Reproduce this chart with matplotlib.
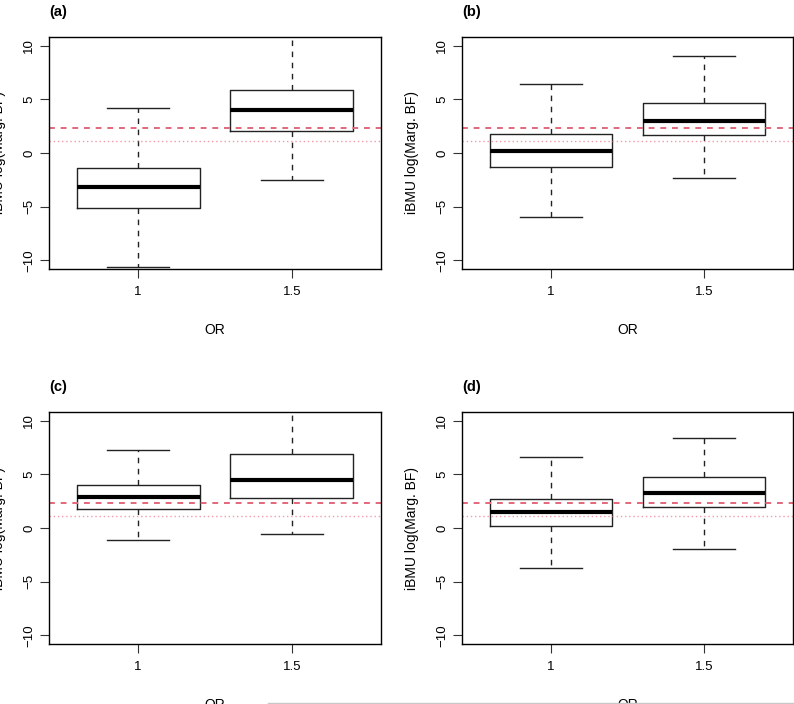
import matplotlib.pyplot as plt
import numpy as np
from matplotlib.lines import Line2D

plt.rcParams['font.family'] = ['Liberation Sans', 'DejaVu Sans']

# box stats per panel, groups OR=1 and OR=1.5
panels = ["(a)", "(b)", "(c)", "(d)"]
or_labels = ["1", "1.5"]

# whislo, q1, med, q3, whishi
stats_a = [[-10.65, -5.08, -3.18, -1.35, 4.2], [-2.56, 2.02, 4.02, 5.89, 12.0]]
stats_b = [[-5.93, -1.31, 0.22, 1.78, 6.41], [-2.34, 1.71, 2.95, 4.7, 9.0]]
stats_c = [[-1.1, 1.81, 2.84, 4.0, 7.26], [-0.55, 2.78, 4.49, 6.92, 12.0]]
stats_d = [[-3.72, 0.17, 1.51, 2.72, 6.64], [-1.95, 2.0, 3.25, 4.77, 8.35]]
all_stats = [stats_a, stats_b, stats_c, stats_d]

thr_dash = np.log(10)
thr_dot = np.log(3)

fig = plt.figure(figsize=(7.94, 7.04), dpi=100)
W, H = 794, 704
boxes = [(49, 37, 381, 269), (462, 37, 793, 269),
         (49, 412, 381, 644), (462, 412, 793, 644)]

for (x0, y0, x1, y1), name, st in zip(boxes, panels, all_stats):
    ax = fig.add_axes([x0 / W, 1 - y1 / H, (x1 - x0) / W, (y1 - y0) / H])
    bx = []
    for s in st:
        bx.append(dict(whislo=s[0], q1=s[1], med=s[2], q3=s[3], whishi=s[4], fliers=[]))
    ax.bxp(bx, positions=[1, 2], widths=0.8, capwidths=0.4, showfliers=False,
           boxprops=dict(color='#222222', linewidth=1),
           medianprops=dict(color='black', linewidth=3, solid_capstyle='butt'),
           whiskerprops=dict(color='#222222', linewidth=1, linestyle=(0, (4, 4))),
           capprops=dict(color='#222222', linewidth=1))
    ax.axhline(thr_dash, color='#e2687a', linewidth=1.4, linestyle=(0, (3, 3)))
    ax.axhline(thr_dot, color='#f29aa8', linewidth=1.0, linestyle=(0, (1, 2)))
    ax.set_xlim(0.42, 2.58)
    ax.set_ylim(-10.8, 10.8)
    ax.set_xticks([1, 2])
    ax.set_xticklabels(or_labels)
    ax.set_yticks([-10, -5, 0, 5, 10])
    ax.set_yticklabels(["\u221210", "\u22125", "0", "5", "10"], rotation=90, va='center')
    ax.tick_params(length=6.5, width=0.8, labelsize=9.5, color='#333333')
    ax.tick_params(axis='x', pad=6)
    ax.tick_params(axis='y', pad=3.5)
    for sp in ax.spines.values():
        sp.set_linewidth(1)
    ax.set_xlabel("OR", fontsize=10)
    ax.xaxis.set_label_coords(0.5, -54 / 232)
    ax.set_ylabel("iBMU log(Marg. BF)", fontsize=10)
    ax.yaxis.set_label_coords(-43 / 332, 0.5)
    ax.set_title(name, loc='left', fontweight='bold', fontsize=10.5, pad=15)

fig.add_artist(Line2D([268 / W, 1], [1 - 703 / H, 1 - 703 / H], color='#c8c8c8', linewidth=1))

fig.savefig("out.png", dpi=100)
